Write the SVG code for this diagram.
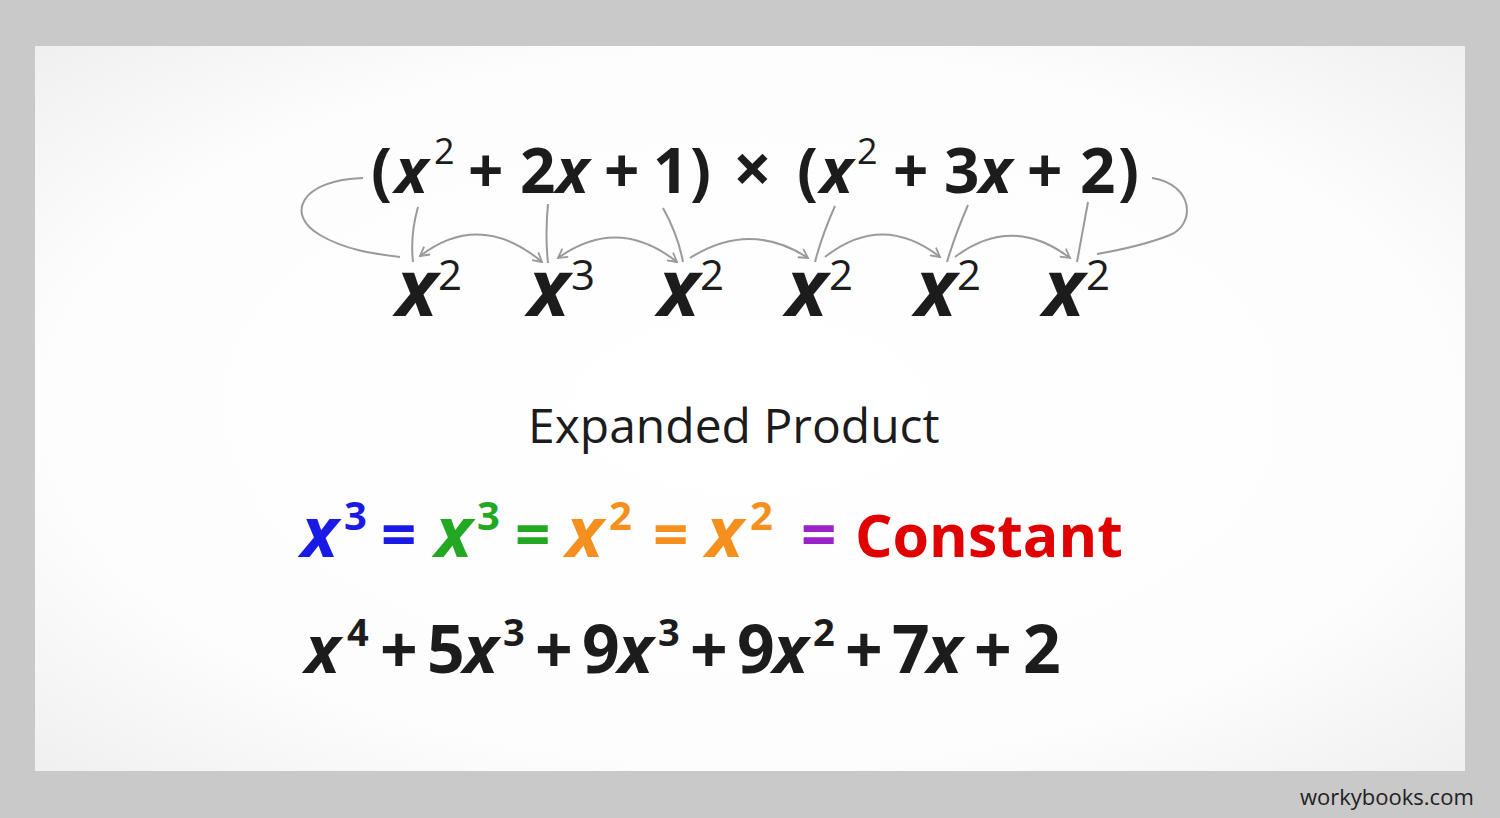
<svg xmlns="http://www.w3.org/2000/svg" width="1500" height="818" viewBox="0 0 1500 818">
<defs>
<radialGradient id="card" cx="50%" cy="50%" r="70%">
<stop offset="0" stop-color="#ffffff"/>
<stop offset="0.7" stop-color="#fdfdfd"/>
<stop offset="1" stop-color="#f0f0f0"/>
</radialGradient>
<marker id="ah" viewBox="0 0 12 12" refX="10" refY="6" markerWidth="12" markerHeight="12" markerUnits="userSpaceOnUse" orient="auto-start-reverse">
<path d="M1,1 L10,6 L1,11" fill="none" stroke="#999" stroke-width="1.8"/>
</marker>
<style>
text{font-family:"Open Sans","Liberation Sans",sans-serif;fill:#1c1c1c}
.b{font-weight:700}
.xi{font-weight:700;font-style:italic}
.t{font-size:62px}
.ts{font-size:36px;font-weight:400}
.bx{font-size:78px;font-weight:700;font-style:italic}
.bs{font-size:42px;font-weight:400}
.c{font-size:70px}
.cs{font-size:40px;font-weight:700}
.e{font-size:62px;font-weight:700}
.l{font-size:66px}
.ls{font-size:38px;font-weight:700}
.conn path{fill:none;stroke:#9a9a9a;stroke-width:2}
</style>
</defs>
<rect width="1500" height="818" fill="#c9c9c9"/>
<rect x="35" y="46" width="1430" height="725" fill="url(#card)"/>

<g id="top-expression">
<text x="371" y="193" class="b t">(</text>
<text x="395" y="193" class="xi t">x</text>
<text x="434" y="164" class="ts">2</text>
<text x="468" y="193" class="b t">+</text>
<text x="520" y="193" class="b t">2</text>
<text x="556" y="193" class="xi t">x</text>
<text x="604" y="193" class="b t">+</text>
<text x="653" y="193" class="b t">1</text>
<text x="690" y="193" class="b t">)</text>
<text x="733" y="193" class="b" style="font-size:68px">×</text>
<text x="797" y="193" class="b t">(</text>
<text x="820" y="193" class="xi t">x</text>
<text x="857" y="164" class="ts">2</text>
<text x="893" y="193" class="b t">+</text>
<text x="944" y="193" class="b t">3</text>
<text x="979" y="193" class="xi t">x</text>
<text x="1027" y="193" class="b t">+</text>
<text x="1080" y="193" class="b t">2</text>
<text x="1118" y="193" class="b t">)</text>
</g>

<g class="conn" id="connectors">
<path d="M363,178 C300,180 285,215 320,235 C345,250 375,254 400,257"/>
<path d="M418,207 Q410,235 413,262"/>
<path d="M420,256 Q480,210 542,262" marker-start="url(#ah)" marker-end="url(#ah)"/>
<path d="M548,204 Q545,235 548,263"/>
<path d="M558,258 Q618,215 677,262" marker-start="url(#ah)" marker-end="url(#ah)"/>
<path d="M663,208 Q678,235 683,262"/>
<path d="M690,258 Q750,220 808,258" marker-end="url(#ah)"/>
<path d="M835,206 Q822,235 815,262"/>
<path d="M825,257 Q882,212 940,257" marker-end="url(#ah)"/>
<path d="M968,205 Q955,235 947,262"/>
<path d="M955,257 Q1012,214 1070,258" marker-end="url(#ah)"/>
<path d="M1088,202 Q1082,235 1077,262"/>
<path d="M1152,178 C1195,185 1195,225 1170,235 C1145,245 1120,250 1097,254"/>
</g>

<g id="term1"><text x="396" y="316" class="bx">x</text><text x="438" y="290" class="bs">2</text></g>
<g id="term2"><text x="528" y="316" class="bx">x</text><text x="571" y="290" class="bs">3</text></g>
<g id="term3"><text x="658" y="316" class="bx">x</text><text x="700" y="290" class="bs">2</text></g>
<g id="term4"><text x="786" y="316" class="bx">x</text><text x="829" y="290" class="bs">2</text></g>
<g id="term5"><text x="915" y="316" class="bx">x</text><text x="957" y="290" class="bs">2</text></g>
<g id="term6"><text x="1043" y="316" class="bx">x</text><text x="1086" y="290" class="bs">2</text></g>

<g id="title"><text x="528" y="443" style="font-size:48px;font-weight:400">Expanded Product</text></g>

<g id="colored-line">
<text x="301" y="557" class="xi c" style="fill:#1a1ae6">x</text>
<text x="344" y="530" class="cs" style="fill:#1a1ae6">3</text>
<text x="381" y="557" class="e" style="fill:#1a1ae6">=</text>
<text x="435" y="557" class="xi c" style="fill:#22a822">x</text>
<text x="477" y="530" class="cs" style="fill:#22a822">3</text>
<text x="515" y="557" class="e" style="fill:#22a822">=</text>
<text x="566" y="557" class="xi c" style="fill:#f5901e">x</text>
<text x="609" y="530" class="cs" style="fill:#f5901e">2</text>
<text x="653" y="557" class="e" style="fill:#f5901e">=</text>
<text x="706" y="557" class="xi c" style="fill:#f5901e">x</text>
<text x="750" y="530" class="cs" style="fill:#f5901e">2</text>
<text x="801" y="557" class="e" style="fill:#9b22c8">=</text>
<text x="855" y="557" class="e" style="fill:#e00000;font-size:59px">Constant</text>
</g>

<g id="expanded-line">
<text x="305" y="673" class="xi l">x</text>
<text x="347" y="646" class="ls">4</text>
<text x="380" y="673" class="b l">+</text>
<text x="427" y="673" class="b l">5</text>
<text x="463" y="673" class="xi l">x</text>
<text x="503" y="646" class="ls">3</text>
<text x="535" y="673" class="b l">+</text>
<text x="582" y="673" class="b l">9</text>
<text x="618" y="673" class="xi l">x</text>
<text x="658" y="646" class="ls">3</text>
<text x="690" y="673" class="b l">+</text>
<text x="737" y="673" class="b l">9</text>
<text x="773" y="673" class="xi l">x</text>
<text x="813" y="646" class="ls">2</text>
<text x="845" y="673" class="b l">+</text>
<text x="892" y="673" class="b l">7</text>
<text x="927" y="673" class="xi l">x</text>
<text x="974" y="673" class="b l">+</text>
<text x="1023" y="673" class="b l">2</text>
</g>

<g id="watermark"><text x="1300" y="805" style="font-size:22px;font-weight:400;fill:#222">workybooks.com</text></g>
</svg>
